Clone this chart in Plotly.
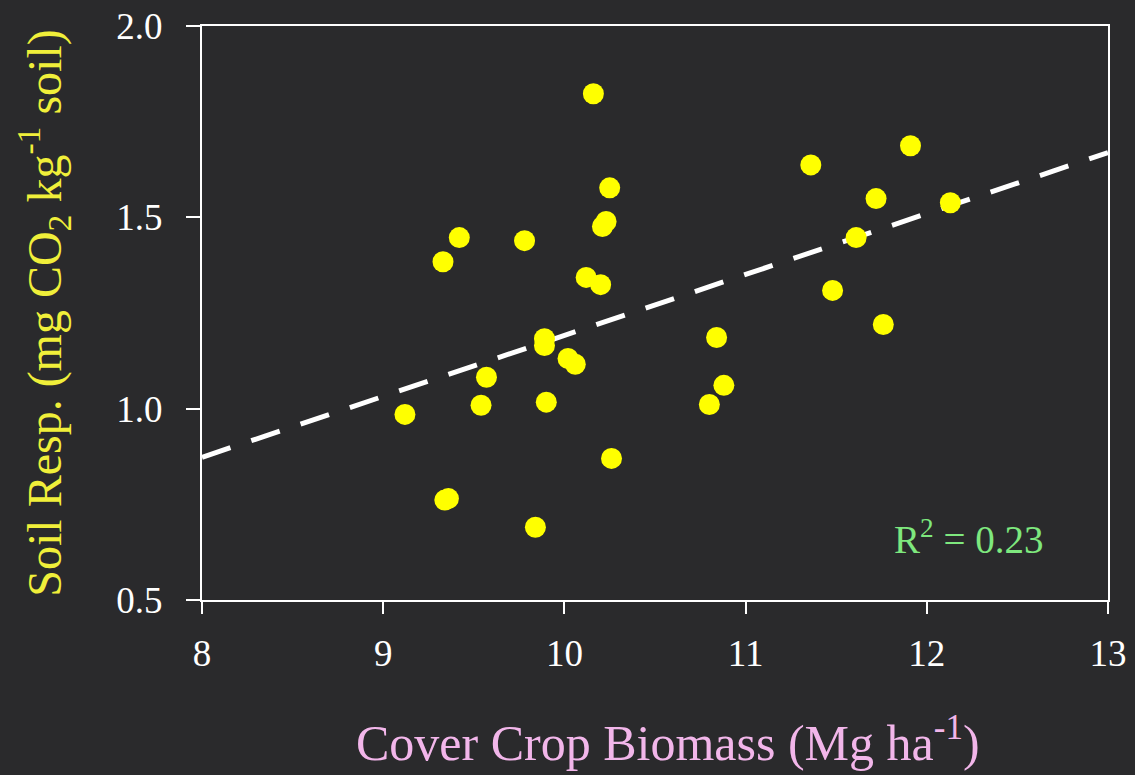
import plotly.graph_objects as go

biomass = [9.12, 9.33, 9.42, 9.34, 9.36, 9.54, 9.57, 9.78, 9.84, 9.89, 9.89, 9.90,
           10.02, 10.06, 10.12, 10.16, 10.20, 10.21, 10.23, 10.25, 10.26,
           10.80, 10.84, 10.88, 11.36, 11.48, 11.61, 11.72, 11.76, 11.91, 12.13]
resp = [0.985, 1.384, 1.447, 0.761, 0.765, 1.009, 1.082, 1.439, 0.690, 1.183, 1.165, 1.017,
        1.131, 1.116, 1.343, 1.823, 1.324, 1.476, 1.489, 1.577, 0.870,
        1.011, 1.186, 1.061, 1.637, 1.309, 1.447, 1.549, 1.220, 1.687, 1.538]

trend_x = [8, 13]
trend_y = [0.873, 1.669]

x_ticks = [8, 9, 10, 11, 12, 13]
y_ticks = [0.5, 1.0, 1.5, 2.0]
y_tick_labels = ["0.5", "1.0", "1.5", "2.0"]

BG = "#2a2a2c"
FONT = "Liberation Serif, Times New Roman, serif"

fig = go.Figure()
fig.add_trace(go.Scatter(
    x=trend_x, y=trend_y, mode="lines",
    line=dict(color="white", width=5, dash="30px,22px"),
    hoverinfo="skip", showlegend=False))
fig.add_trace(go.Scatter(
    x=biomass, y=resp, mode="markers",
    marker=dict(color="#ffff00", size=21, line=dict(width=0)),
    showlegend=False))

fig.add_annotation(
    x=12.23, y=0.665, xref="x", yref="y",
    text="R<sup>2</sup> = 0.23", showarrow=False,
    font=dict(family=FONT, size=39, color="#7ee87e"))

# x-axis title placed as an annotation to match the reference's slight right offset
fig.add_annotation(
    x=(668 - 202) / 906, y=-0.243, xref="paper", yref="paper",
    xanchor="center", yanchor="middle",
    text="Cover Crop Biomass (Mg ha<sup>-1</sup>)", showarrow=False,
    font=dict(family=FONT, size=50, color="#f2b6ea"))

fig.update_layout(
    width=1135, height=775,
    paper_bgcolor=BG, plot_bgcolor=BG,
    margin=dict(l=202, r=27, t=26, b=175),
    font=dict(family=FONT, color="white"),
    xaxis=dict(
        range=[8, 13], tickvals=x_ticks, ticks="outside", ticklen=12, tickwidth=2,
        tickcolor="white", showline=True, linecolor="white", linewidth=2, mirror=True,
        showgrid=False, zeroline=False, tickfont=dict(size=37, color="white"),
        ticklabelstandoff=8, automargin=False),
    yaxis=dict(
        range=[0.5, 2.0], tickvals=y_ticks, ticktext=y_tick_labels, ticks="outside",
        ticklen=14, tickwidth=2, tickcolor="white", showline=True, linecolor="white",
        linewidth=2, mirror=True, showgrid=False, zeroline=False, automargin=False,
        tickfont=dict(size=37, color="white"), ticklabelstandoff=16,
        title=dict(text="Soil Resp. (mg CO<sub>2</sub> kg<sup>-1</sup> soil)",
                   font=dict(size=48, color="#f0ef3a"), standoff=40)),
)

fig.write_html("out.html", config={"displayModeBar": False},
               post_script="document.body.style.margin='0';document.body.style.background='#2a2a2c';")
